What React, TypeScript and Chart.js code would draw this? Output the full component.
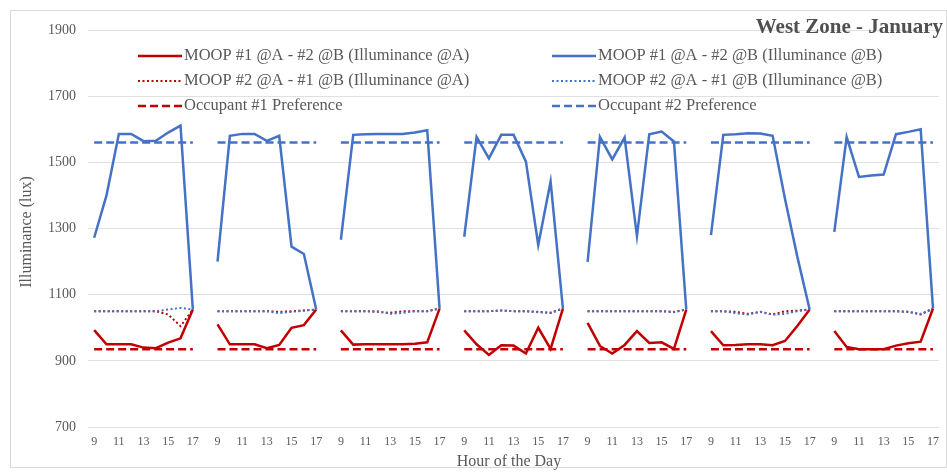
import React, { useEffect, useRef } from "react";
import { Chart, registerables } from "chart.js";

Chart.register(...registerables);

const FONT = '"Liberation Serif", "Times New Roman", serif';
const TEXT_COLOR = "#595959";
const RED = "#C00000";
const BLUE = "#4472C4";

const titleText = "West Zone - January";
const xTitle = "Hour of the Day";
const yTitle = "Illuminance (lux)";

const hours = ["9", "10", "11", "12", "13", "14", "15", "16", "17"];
const dayCount = 7;

const yMin = 700;
const yMax = 1900;
const yStep = 200;

// MOOP #1 @A - #2 @B (Illuminance @A)
const moop1A = [
  [993, 950, 950, 950, 940, 938, 955, 968, 1055],
  [1010, 950, 950, 950, 938, 948, 1000, 1008, 1055],
  [992, 949, 950, 950, 950, 950, 952, 956, 1058],
  [992, 950, 918, 947, 946, 922, 1000, 936, 1058],
  [1015, 945, 922, 948, 990, 954, 956, 936, 1055],
  [990, 947, 948, 950, 950, 947, 960, 1005, 1055],
  [990, 942, 935, 935, 935, 946, 953, 958, 1058],
];

// MOOP #1 @A - #2 @B (Illuminance @B)
const moop1B = [
  [1272, 1400, 1586, 1586, 1564, 1565, 1590, 1611, 1055],
  [1200, 1580, 1586, 1586, 1565, 1580, 1245, 1223, 1055],
  [1266, 1583, 1585, 1586, 1586, 1586, 1590, 1597, 1058],
  [1275, 1577, 1512, 1583, 1583, 1502, 1250, 1442, 1058],
  [1199, 1577, 1509, 1575, 1277, 1585, 1593, 1563, 1055],
  [1280, 1583, 1585, 1588, 1587, 1580, 1390, 1215, 1055],
  [1290, 1576, 1456, 1460, 1463, 1585, 1592, 1600, 1058],
];

// MOOP #2 @A - #1 @B (Illuminance @A)
const moop2A = [
  [1050, 1050, 1050, 1050, 1050, 1050, 1040, 1005, 1055],
  [1050, 1050, 1050, 1050, 1050, 1048, 1050, 1052, 1055],
  [1050, 1050, 1050, 1048, 1045, 1050, 1050, 1050, 1058],
  [1050, 1050, 1050, 1052, 1050, 1050, 1048, 1045, 1058],
  [1050, 1050, 1050, 1050, 1050, 1050, 1050, 1048, 1055],
  [1050, 1050, 1048, 1042, 1048, 1040, 1050, 1052, 1055],
  [1050, 1050, 1050, 1050, 1050, 1050, 1048, 1040, 1058],
];

// MOOP #2 @A - #1 @B (Illuminance @B)
const moop2B = [
  [1050, 1050, 1050, 1050, 1050, 1050, 1055, 1060, 1055],
  [1050, 1050, 1050, 1050, 1050, 1044, 1048, 1052, 1055],
  [1050, 1050, 1050, 1050, 1042, 1045, 1050, 1050, 1058],
  [1050, 1050, 1050, 1052, 1050, 1050, 1047, 1045, 1058],
  [1050, 1050, 1050, 1050, 1050, 1050, 1050, 1047, 1055],
  [1050, 1050, 1044, 1040, 1048, 1040, 1042, 1050, 1055],
  [1050, 1050, 1050, 1050, 1050, 1050, 1048, 1042, 1058],
];

const occupant1Pref = 935;
const occupant2Pref = 1560;

const legendLabels = [
  "MOOP #1 @A - #2 @B (Illuminance @A)",
  "MOOP #1 @A - #2 @B (Illuminance @B)",
  "MOOP #2 @A - #1 @B (Illuminance @A)",
  "MOOP #2 @A - #1 @B (Illuminance @B)",
  "Occupant #1 Preference",
  "Occupant #2 Preference",
];

// build category labels with a blank slot between days
const labels: string[] = [];
for (let d = 0; d < dayCount; d++) {
  hours.forEach((h) => labels.push(h));
  if (d < dayCount - 1) labels.push("");
}

function flatten(days: number[][]): (number | null)[] {
  const out: (number | null)[] = [];
  days.forEach((day, d) => {
    day.forEach((v) => out.push(v));
    if (d < days.length - 1) out.push(null);
  });
  return out;
}

function constantDays(v: number): number[][] {
  const days: number[][] = [];
  for (let d = 0; d < dayCount; d++) days.push(hours.map(() => v));
  return days;
}

type LegendStyle = { color: string; dash: number[]; width: number };
const legendStyles: LegendStyle[] = [
  { color: RED, dash: [], width: 2.5 },
  { color: BLUE, dash: [], width: 2.5 },
  { color: RED, dash: [2, 2.5], width: 2 },
  { color: BLUE, dash: [2, 2.5], width: 2 },
  { color: RED, dash: [8, 4], width: 2.5 },
  { color: BLUE, dash: [8, 4], width: 2.5 },
];

const decorPlugin = {
  id: "decor",
  afterDraw(chart: any) {
    const ctx: CanvasRenderingContext2D = chart.ctx;
    ctx.save();
    // outer border
    ctx.strokeStyle = "#D9D9D9";
    ctx.lineWidth = 1;
    ctx.strokeRect(10.5, 10.5, 936, 457);

    // title
    ctx.fillStyle = "#505050";
    ctx.font = `bold 21px ${FONT}`;
    ctx.textAlign = "right";
    ctx.textBaseline = "middle";
    ctx.fillText(titleText, 943, 28);

    // axis titles
    ctx.fillStyle = TEXT_COLOR;
    ctx.font = `16px ${FONT}`;
    ctx.textAlign = "center";
    ctx.fillText(xTitle, 509, 462);
    ctx.save();
    ctx.translate(27, 232);
    ctx.rotate(-Math.PI / 2);
    ctx.fillText(yTitle, 0, 0);
    ctx.restore();

    // legend
    const colX = [138, 552];
    const rowY = [56, 81, 106];
    const sampleLen = 44;
    legendLabels.forEach((txt, i) => {
      const col = i % 2;
      const row = Math.floor(i / 2);
      const x = colX[col];
      const y = rowY[row];
      const st = legendStyles[i];
      ctx.save();
      ctx.strokeStyle = st.color;
      ctx.lineWidth = st.width;
      ctx.setLineDash(st.dash);
      ctx.beginPath();
      ctx.moveTo(x, y);
      ctx.lineTo(x + sampleLen, y);
      ctx.stroke();
      ctx.restore();
      ctx.fillStyle = TEXT_COLOR;
      ctx.font = `16.5px ${FONT}`;
      ctx.textAlign = "left";
      ctx.textBaseline = "middle";
      ctx.fillText(txt, x + sampleLen + 2, y);
    });
    ctx.restore();
  },
};

export default function App() {
  const ref = useRef<HTMLCanvasElement | null>(null);

  useEffect(() => {
    document.body.style.margin = "0";
    const canvas = ref.current;
    if (!canvas) return;

    const base = {
      pointRadius: 0,
      pointHoverRadius: 0,
      tension: 0,
      spanGaps: false,
      fill: false,
    };

    const chart = new Chart(canvas, {
      type: "line",
      data: {
        labels,
        datasets: [
          {
            ...base,
            label: legendLabels[1],
            data: flatten(moop1B),
            borderColor: BLUE,
            borderWidth: 2.5,
            order: 1,
          },
          {
            ...base,
            label: legendLabels[0],
            data: flatten(moop1A),
            borderColor: RED,
            borderWidth: 2.5,
            order: 2,
          },
          {
            ...base,
            label: legendLabels[3],
            data: flatten(moop2B),
            borderColor: BLUE,
            borderWidth: 2,
            borderDash: [2, 2.5],
            order: 3,
          },
          {
            ...base,
            label: legendLabels[2],
            data: flatten(moop2A),
            borderColor: RED,
            borderWidth: 2,
            borderDash: [2, 2.5],
            order: 4,
          },
          {
            ...base,
            label: legendLabels[5],
            data: flatten(constantDays(occupant2Pref)),
            borderColor: BLUE,
            borderWidth: 2.5,
            borderDash: [8, 4],
            order: 5,
          },
          {
            ...base,
            label: legendLabels[4],
            data: flatten(constantDays(occupant1Pref)),
            borderColor: RED,
            borderWidth: 2.5,
            borderDash: [8, 4],
            order: 6,
          },
        ],
      },
      options: {
        responsive: false,
        animation: false,
        layout: { padding: { left: 0, right: -4, top: 30, bottom: 0 } },
        plugins: {
          legend: { display: false },
          tooltip: { enabled: false },
          title: { display: false },
        },
        scales: {
          x: {
            type: "category",
            offset: true,
            grid: { display: false, drawTicks: false },
            border: { display: false },
            ticks: {
              autoSkip: false,
              maxRotation: 0,
              minRotation: 0,
              padding: 8,
              color: TEXT_COLOR,
              font: { family: FONT, size: 12 },
              callback: (_v: any, i: number) => (i % 2 === 0 ? labels[i] : ""),
            },
            afterFit: (s: any) => {
              s.height = 47;
            },
          },
          y: {
            min: yMin,
            max: yMax,
            grid: { color: "#E0E0E0", drawTicks: false, lineWidth: 1 },
            border: { display: false },
            ticks: {
              stepSize: yStep,
              padding: 12,
              color: TEXT_COLOR,
              font: { family: FONT, size: 14 },
              callback: (v: any) => String(v),
            },
            afterFit: (s: any) => {
              s.width = 88;
            },
          },
        },
      },
      plugins: [decorPlugin],
    });

    return () => chart.destroy();
  }, []);

  return (
    <div style={{ position: "fixed", left: 0, top: 0, width: 947, height: 474, background: "#fff" }}>
      <canvas ref={ref} width={947} height={474} style={{ width: 947, height: 474 }} />
    </div>
  );
}
